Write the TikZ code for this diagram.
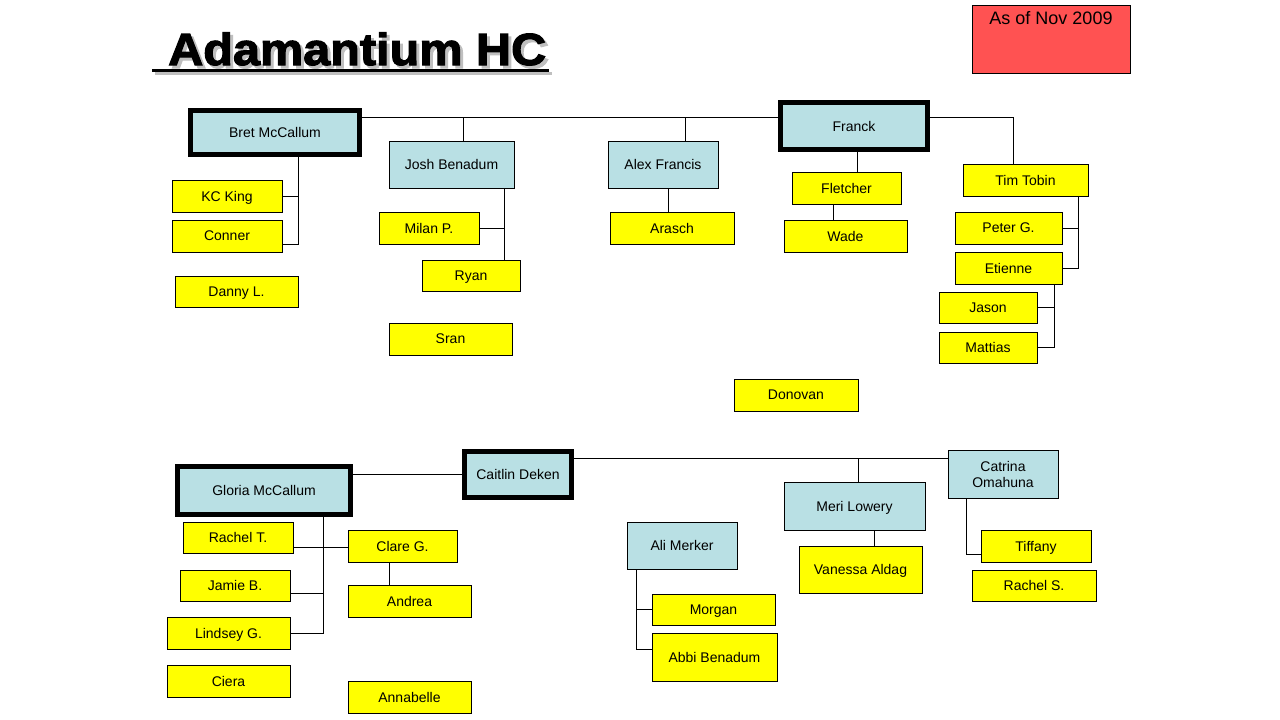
\documentclass[tikz,border=0pt]{standalone}
\usepackage{fontspec}
\setmainfont{Liberation Sans}
\newfontfamily\titlefont[FakeStretch=1.08,FakeBold=2.5]{Liberation Sans}
\usepackage{xcolor}
\definecolor{boxblue}{RGB}{185,224,228}
\definecolor{boxyellow}{RGB}{255,255,0}
\definecolor{notered}{RGB}{255,82,82}
\newcommand{\dropshadow}[1]{\rlap{\kern3pt\raisebox{-3pt}{\color{gray!50}#1}}#1}

\begin{document}
\begin{tikzpicture}[x=1pt,y=-1pt,
  box/.style={draw,line width=1pt,inner sep=0pt,outer sep=0pt,
    font=\fontsize{14}{16}\selectfont,align=center,text depth=0pt},
  ybox/.style={box,fill=boxyellow},
  bbox/.style={box,fill=boxblue},
  lead/.style={bbox,line width=5pt},
  wh/.style 2 args={minimum width=#1,minimum height=#2},
  link/.style={line width=1pt}]

  \useasboundingbox[fill=white] (0,0) rectangle (1280,720);

  %% ---- Title and date note ----
  \node[anchor=base west,inner sep=0pt,font=\titlefont\bfseries\fontsize{45}{54}\selectfont]
    (title) at (152,65) {\hspace*{16pt}\dropshadow{Adamantium HC}};
  \draw[line width=3pt,gray!50] ([yshift=-8pt,xshift=3pt]title.base west) -- ([yshift=-8pt,xshift=6pt]title.base east);
  \draw[line width=3pt] ([yshift=-5pt]title.base west) -- ([yshift=-5pt,xshift=3pt]title.base east);

  \node[draw,line width=1pt,fill=notered,wh={158}{68}] (asof) at (1051,39) {};
  \node[anchor=north,inner sep=0pt,font=\fontsize{18}{20}\selectfont] (asoflabel)
    at ([yshift=-7pt]asof.north) {As of Nov 2009};

  %% ---- Upper chart ----
  \node[lead,wh={169}{44}] (bret) at (275,132.5) {Bret McCallum};
  \node[bbox,wh={125}{47}] (josh) at (451.5,164.5) {Josh Benadum};
  \node[bbox,wh={110}{47}] (alex) at (663,164.5) {Alex Francis};
  \node[lead,wh={147}{47}] (franck) at (854,126) {Franck};
  \node[ybox,wh={125}{32}] (tim) at (1025.5,180) {Tim Tobin};

  \node[ybox,wh={110}{32}] (kc) at (227,196) {KC King};
  \node[ybox,wh={110}{32}] (conner) at (227,236) {Conner};
  \node[ybox,wh={123}{31}] (danny) at (236.5,291.5) {Danny L.};

  \node[ybox,wh={100}{32}] (milan) at (429,228) {Milan P.};
  \node[ybox,wh={98}{31}] (ryan) at (471,275.5) {Ryan};
  \node[ybox,wh={123}{32}] (sran) at (450.5,339) {Sran};

  \node[ybox,wh={124}{32}] (arasch) at (672,228) {Arasch};

  \node[ybox,wh={109}{32}] (fletcher) at (846.5,188) {Fletcher};
  \node[ybox,wh={123}{32}] (wade) at (845.5,236) {Wade};
  \node[ybox,wh={124}{32}] (donovan) at (796,395) {Donovan};

  \node[ybox,wh={107}{32}] (peter) at (1008.5,228) {Peter G.};
  \node[ybox,wh={107}{32}] (etienne) at (1008.5,268) {Etienne};
  \node[ybox,wh={98}{31}] (jason) at (988,307.5) {Jason};
  \node[ybox,wh={98}{31}] (mattias) at (988,347.5) {Mattias};

  % top bar and drops
  \coordinate (tbar) at ([yshift=15.5pt]bret.east);
  \draw[link] (tbar) -- (tbar -| franck.west);
  \draw[link] ([yshift=9pt]franck.east) -| ([xshift=-12.5pt]tim.north);
  \draw[link] ([xshift=11.5pt]josh.north) -- ([xshift=11.5pt]josh.north |- tbar);
  \draw[link] ([xshift=22pt]alex.north) -- ([xshift=22pt]alex.north |- tbar);

  \coordinate (bdrop) at ([xshift=23pt]bret.south);
  \draw[link] (bdrop) |- ([yshift=-8pt]conner.east);
  \draw[link] (kc.east) -- (kc.east -| bdrop);

  \coordinate (jdrop) at ([xshift=52.5pt]josh.south);
  \draw[link] (jdrop) -- (jdrop |- ryan.north);
  \draw[link] (milan.east) -- (milan.east -| jdrop);

  \draw[link] ([xshift=5pt]alex.south) -- ([xshift=5pt]alex.south |- arasch.north);
  \draw[link] ([xshift=3pt]franck.south) -- ([xshift=3pt]franck.south |- fletcher.north);
  \draw[link] ([xshift=-13.5pt]fletcher.south) -- ([xshift=-13.5pt]fletcher.south |- wade.north);

  \coordinate (tdrop) at ([xshift=52.5pt]tim.south);
  \draw[link] (tdrop) |- (etienne.east);
  \draw[link] (peter.east) -- (peter.east -| tdrop);

  \coordinate (edrop) at ([xshift=45.5pt]etienne.south);
  \draw[link] (edrop) |- (mattias.east);
  \draw[link] (jason.east) -- (jason.east -| edrop);

  %% ---- Lower chart ----
  \node[lead,wh={173}{48}] (gloria) at (264,490.5) {Gloria McCallum};
  \node[lead,wh={107}{46}] (caitlin) at (518,474.5) {Caitlin Deken};
  \node[bbox,wh={110}{48}] (catrina) at (1003,474) {Catrina\\Omahuna};
  \node[bbox,wh={141}{48}] (meri) at (854.5,506) {Meri Lowery};
  \node[bbox,wh={110}{47}] (ali) at (682,545.5) {Ali Merker};

  \node[ybox,wh={110}{31}] (rachelt) at (238,537.5) {Rachel T.};
  \node[ybox,wh={110}{31}] (jamie) at (235,585.5) {Jamie B.};
  \node[ybox,wh={123}{32}] (lindsey) at (228.5,633) {Lindsey G.};
  \node[ybox,wh={123}{32}] (ciera) at (228.5,681) {Ciera};

  \node[ybox,wh={109}{32}] (clare) at (402.5,546) {Clare G.};
  \node[ybox,wh={123}{32}] (andrea) at (409.5,601) {Andrea};
  \node[ybox,wh={123}{32}] (annabelle) at (409.5,697) {Annabelle};

  \node[ybox,wh={123}{31}] (morgan) at (713.5,609.5) {Morgan};
  \node[ybox,wh={125}{48}] (abbi) at (714.5,657) {Abbi Benadum};

  \node[ybox,wh={123}{47}] (vanessa) at (860.5,569.5) {Vanessa Aldag};

  \node[ybox,wh={110}{32}] (tiffany) at (1036,546) {Tiffany};
  \node[ybox,wh={124}{31}] (rachels) at (1034,585.5) {Rachel S.};

  % bar from Caitlin and drops
  \coordinate (cbar) at ([yshift=16.5pt]caitlin.east);
  \draw[link] (caitlin.west) -- (caitlin.west -| gloria.east);
  \draw[link] (cbar) -- (cbar -| catrina.west);
  \draw[link] ([xshift=3.5pt]meri.north) -- ([xshift=3.5pt]meri.north |- cbar);
  \draw[link] ([xshift=19.5pt]meri.south) -- ([xshift=19.5pt]meri.south |- vanessa.north);
  \draw[link] ([xshift=-37pt]catrina.south) |- ([yshift=-8pt]tiffany.west);

  \coordinate (adrop) at ([xshift=-46pt]ali.south);
  \draw[link] (adrop) |- ([yshift=8pt]abbi.west);
  \draw[link] (morgan.west) -- (morgan.west -| adrop);

  \coordinate (gdrop) at ([xshift=59pt]gloria.south);
  \draw[link] (gdrop) |- (lindsey.east);
  \draw[link] ([yshift=-7.5pt]jamie.east) -- ([yshift=-7.5pt]jamie.east -| gdrop);
  \draw[link] ([yshift=-9.5pt]rachelt.east) -- ([yshift=-9.5pt]rachelt.east -| clare.west);
  \draw[link] ([xshift=-13.5pt]clare.south) -- ([xshift=-13.5pt]clare.south |- andrea.north);

\end{tikzpicture}
\end{document}
